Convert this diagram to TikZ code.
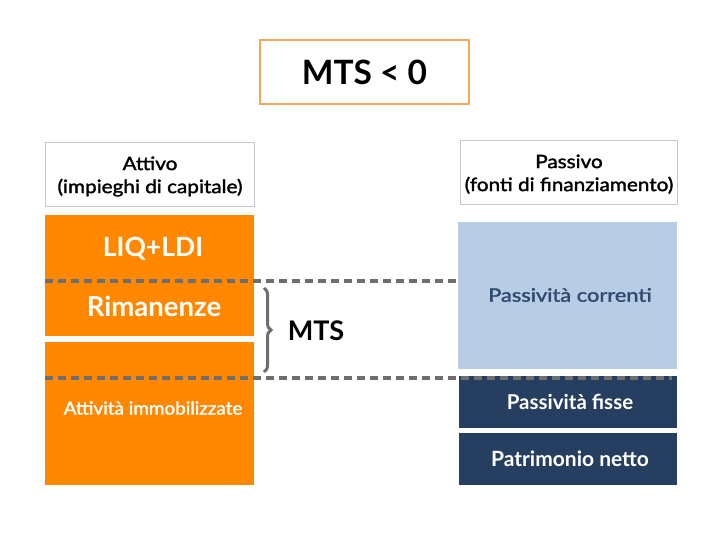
\documentclass[tikz,border=0pt]{standalone}
\usepackage{fontspec}
\setmainfont{Lato}
\newfontfamily\latomed[FakeBold=1.6]{Lato}
\usetikzlibrary{decorations.pathreplacing}
\definecolor{orng}{HTML}{FF8800}
\definecolor{orngline}{HTML}{F7A85A}
\definecolor{grayline}{HTML}{C4C8D2}
\definecolor{dashgray}{HTML}{6E6E6E}
\definecolor{lightblue}{HTML}{B8CCE4}
\definecolor{navy}{HTML}{263F60}
\definecolor{navytext}{HTML}{2F4A6E}
\newcommand{\widetxt}[2]{\scalebox{#1}[1]{#2}}
\begin{document}
\begin{tikzpicture}[x=1pt,y=-1pt,
  dashline/.style={draw=dashgray, line width=3.5pt, dash pattern=on 8pt off 5pt},
  hdr/.style={font=\latomed\fontsize{18.5}{23}\selectfont}]
\useasboundingbox (0,0) rectangle (720,540);
% title
\draw[orngline, line width=1.2pt] (260,40) rectangle (469,104);
\node (title) at (364.5,72) {\fontsize{33.5}{36}\selectfont\bfseries MTS < 0};
% headers
\draw[grayline, line width=1pt] (45,143) rectangle (254,207);
\node[hdr] (attivo) at (150,177) {\widetxt{1.12}{\begin{tabular}{@{}c@{}}Attivo\\(impieghi di capitale)\end{tabular}}};
\draw[grayline, line width=1pt] (460,141) rectangle (677,205);
\node[hdr] (passivo) at (569,175) {\widetxt{1.12}{\begin{tabular}{@{}c@{}}Passivo\\(fonti di finanziamento)\end{tabular}}};
% left blocks
\fill[orng] (45,215) rectangle (254,336);
\fill[orng] (45,342) rectangle (254,485);
\node[text=white] (liq) at (153,249) {\fontsize{26.5}{30}\selectfont\bfseries LIQ+LDI};
\node[text=white] (rim) at (154,306) {\fontsize{27.5}{30}\selectfont\bfseries Rimanenze};
\node[text=white] (imm) at (153,408) {\latomed\fontsize{18}{20}\selectfont\widetxt{1.05}{Attività immobilizzate}};
% right blocks
\fill[lightblue] (458,222) rectangle (677,369);
\node[text=navytext] (pc) at (570,295) {\latomed\fontsize{18.5}{20}\selectfont\widetxt{1.18}{Passività correnti}};
\fill[navy] (459,376) rectangle (677,428);
\node[text=white] (pf) at (570,402) {\fontsize{20.5}{22}\selectfont\bfseries Passività fisse};
\fill[navy] (459,433) rectangle (677,485);
\node[text=white] (pn) at (570,459) {\fontsize{21}{22}\selectfont\bfseries Patrimonio netto};
% dashed lines
\coordinate (d1a) at (45,281); \coordinate (d1b) at (460,281);
\coordinate (d2a) at (45,378); \coordinate (d2b) at (672,378);
\draw[dashline] (d1a) -- (d1b);
\draw[dashline] (d2a) -- (d2b);
% brace
\coordinate (b1) at (264,288); \coordinate (b2) at (264,372);
\draw[dashgray, line width=3pt, decorate, decoration={brace, amplitude=7pt}] (b1) -- (b2);
\node (mts) at (316,331) {\fontsize{27}{30}\selectfont\bfseries MTS};
\end{tikzpicture}
\end{document}
